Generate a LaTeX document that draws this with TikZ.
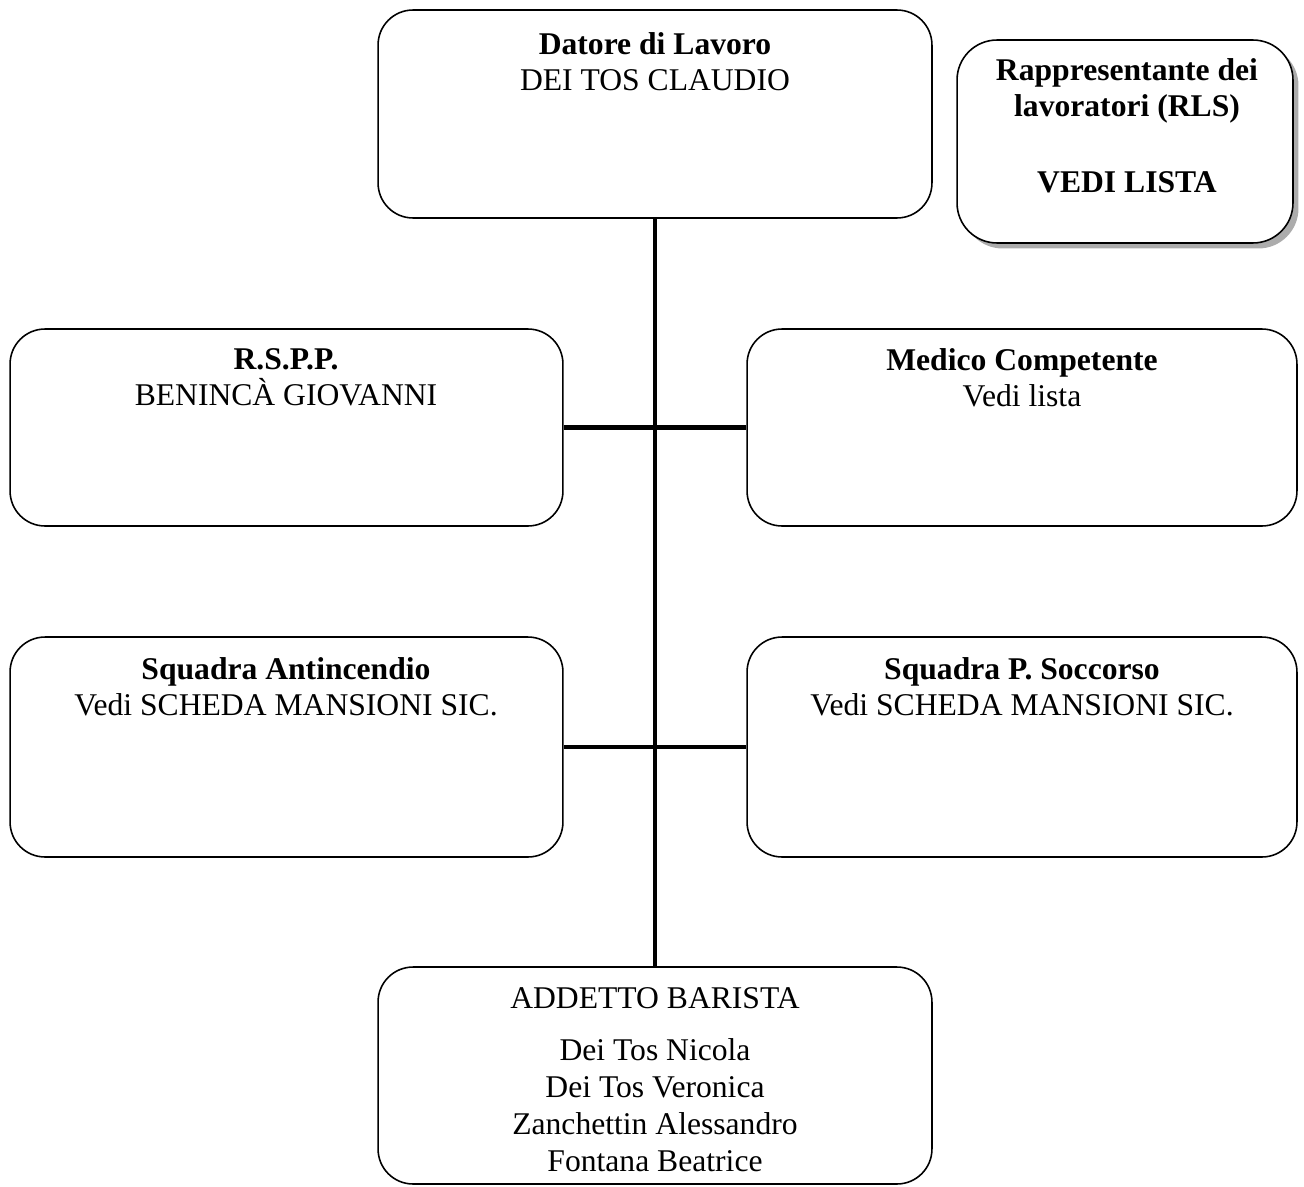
\documentclass[tikz,border=0pt]{standalone}
\usepackage{fontspec}
\setmainfont{Liberation Serif}
\usetikzlibrary{shadows}
\tikzset{
  orgbox/.style={draw=black, line width=0.9pt, rounded corners=0.7cm, fill=white, inner sep=0pt},
  boxtext/.style={anchor=north, align=center, inner sep=0pt, font=\fontsize{18}{20.5}\selectfont},
  link/.style={draw=black, line width=2.6pt},
  rlsshadow/.style={drop shadow={shadow xshift=0.11cm, shadow yshift=-0.11cm, fill=gray!65, opacity=1}}
}
\begin{document}
\begin{tikzpicture}[x=0.02cm, y=-0.02cm]
\useasboundingbox (0,0) rectangle (1304,1186);

% boxes
\node[orgbox, minimum width=11.08cm, minimum height=4.16cm] (datore) at (655,114) {};
\node[orgbox, rlsshadow, rounded corners=0.8cm, minimum width=6.72cm, minimum height=4.06cm] (rls) at (1125,141.5) {};
\node[orgbox, minimum width=11.06cm, minimum height=3.94cm] (rspp) at (286.5,427.5) {};
\node[orgbox, minimum width=11.0cm, minimum height=3.94cm] (medico) at (1022,427.5) {};
\node[orgbox, minimum width=11.06cm, minimum height=4.4cm] (antinc) at (286.5,747) {};
\node[orgbox, minimum width=11.0cm, minimum height=4.4cm] (soccorso) at (1022,747) {};
\node[orgbox, minimum width=11.08cm, minimum height=4.34cm] (addetto) at (655,1075.5) {};

% connectors
\draw[link] (datore.south) -- (addetto.north);
\draw[link] (rspp.east) -- (medico.west);
\draw[link] (antinc.east) -- (soccorso.west);

% texts
\node[boxtext] (tdatore) at (655,32.5) {\textbf{Datore di Lavoro}\\DEI TOS CLAUDIO};
\node[boxtext] (trls) at (1127,58.5) {\textbf{Rappresentante dei}\\\textbf{lavoratori (RLS)}\\[22.8pt]\textbf{VEDI LISTA}};
\node[boxtext] (trspp) at (286,348.5) {\textbf{R.S.P.P.}\\BENINCÀ GIOVANNI};
\node[boxtext] (tmedico) at (1022,348.5) {\textbf{Medico Competente}\\Vedi lista};
\node[boxtext] (tantinc) at (286,657) {\textbf{Squadra Antincendio}\\Vedi SCHEDA MANSIONI SIC.};
\node[boxtext] (tsoccorso) at (1022,657) {\textbf{Squadra P. Soccorso}\\Vedi SCHEDA MANSIONI SIC.};
\node[boxtext, font=\fontsize{18}{21}\selectfont] (taddetto) at (655,987.5) {ADDETTO BARISTA\\[8.6pt]Dei Tos Nicola\\Dei Tos Veronica\\Zanchettin Alessandro\\Fontana Beatrice};
\end{tikzpicture}
\end{document}
